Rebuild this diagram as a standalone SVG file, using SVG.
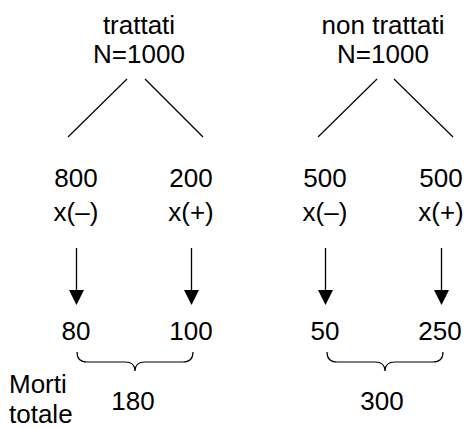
<svg xmlns="http://www.w3.org/2000/svg" width="466" height="428" viewBox="0 0 466 428">
<style>
text{font-family:"Liberation Sans",Arial,sans-serif;font-size:26px;fill:#000;text-anchor:middle}
.l{stroke:#000;stroke-width:1.2;fill:none}
.a{stroke:#000;stroke-width:1.3;fill:none}
.h{fill:#000;stroke:none}
</style>
<rect width="466" height="428" fill="#fff"/>
<g id="connectors">
<line class="l" x1="127" y1="79" x2="68" y2="137"/>
<line class="l" x1="145" y1="79" x2="203" y2="137"/>
<line class="l" x1="377" y1="79" x2="318" y2="137"/>
<line class="l" x1="394" y1="79" x2="453" y2="137"/>
<g>
<line class="a" x1="76.5" y1="248" x2="76.5" y2="292"/><path class="h" d="M69,290 L84,290 L76.5,305 Z"/>
<line class="a" x1="191.5" y1="248" x2="191.5" y2="292"/><path class="h" d="M184,290 L199,290 L191.5,305 Z"/>
<line class="a" x1="325.5" y1="248" x2="325.5" y2="292"/><path class="h" d="M318,290 L333,290 L325.5,305 Z"/>
<line class="a" x1="441.5" y1="248" x2="441.5" y2="292"/><path class="h" d="M434,290 L449,290 L441.5,305 Z"/>
</g>
<path class="l" d="M77,352 Q77,362 87,362 L125,362 Q135,362 135,371 Q135,362 145,362 L183,362 Q193,362 193,352"/>
<path class="l" d="M327,352 Q327,362 337,362 L375,362 Q385,362 385,371 Q385,362 395,362 L433,362 Q443,362 443,352"/>
</g>
<g id="trattati"><text x="139" y="34">trattati</text><text x="139" y="63">N=1000</text></g>
<g id="non-trattati"><text x="383" y="34">non trattati</text><text x="383" y="63">N=1000</text></g>
<g id="t-neg"><text x="76" y="187">800</text><text x="76" y="221">x(–)</text></g>
<g id="t-pos"><text x="191" y="187">200</text><text x="191" y="221">x(+)</text></g>
<g id="n-neg"><text x="325" y="187">500</text><text x="325" y="221">x(–)</text></g>
<g id="n-pos"><text x="441" y="187">500</text><text x="441" y="221">x(+)</text></g>
<g id="r80"><text x="76" y="340">80</text></g>
<g id="r100"><text x="191" y="340">100</text></g>
<g id="r50"><text x="325" y="340">50</text></g>
<g id="r250"><text x="440" y="340">250</text></g>
<g id="sum180"><text x="133" y="410">180</text></g>
<g id="sum300"><text x="382" y="410">300</text></g>
<g id="label"><text x="9" y="393" style="text-anchor:start">Morti</text><text x="9" y="423" style="text-anchor:start">totale</text></g>
</svg>
